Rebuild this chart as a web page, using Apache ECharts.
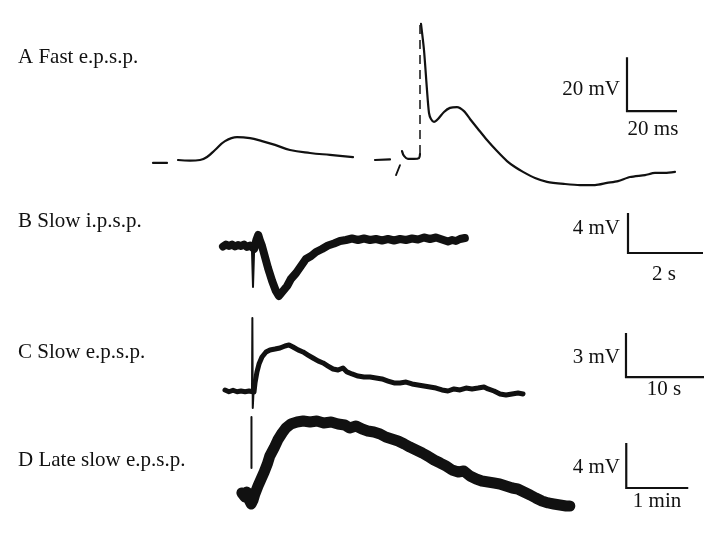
<!DOCTYPE html>
<html>
<head>
<meta charset="utf-8">
<script src="https://cdn.jsdelivr.net/npm/echarts@6/dist/echarts.min.js"></script>
<style>html,body{margin:0;padding:0;background:#fff}#c{width:722px;height:535px}</style>
</head>
<body>
<div id="c"></div>
<script>
// ---------- Panel titles and scale bar labels ----------
const panelTitles = ['A Fast e.p.s.p.', 'B Slow i.p.s.p.', 'C Slow e.p.s.p.', 'D Late slow e.p.s.p.'];
const yScaleLabels = ['20 mV', '4 mV', '3 mV', '4 mV'];
const xScaleLabels = ['20 ms', '2 s', '10 s', '1 min'];
// scale bar sizes in data units [x length, y length] and their anchor corners [x, y]
const scaleSizes = [[20, 20], [2, 4], [10, 3], [1, 4]];
const scaleAnchors = [[190, 18.1], [10.88, -0.7], [52.05, 0.95], [6.23, 0.8]];

// ---------- A: fast e.p.s.p. (time ms, potential mV) ----------
const A_dash1 = [[0.4, -1.1], [6, -1.1]];
const A_epsp = [[10.4, 0], [15.2, -0.2], [19.2, 0], [22, 1.1], [25.2, 3.7], [29.2, 7.0], [34, 8.5], [39.2, 8.1],
  [44, 7.0], [49.2, 5.6], [55.2, 3.7], [63.2, 2.6], [71.2, 1.9], [80.4, 1.1]];
const A_dash2 = [[89.2, 0], [95.2, 0.2]];
const A_slash = [[97.6, -5.6], [99.2, -1.9]];
const A_cup = [[100, 3.3], [100.8, 1.5], [102.4, 0.4], [104.8, 0.4], [106.8, 0.7], [107.2, 2.2]];
const A_upstroke = [[107.2, 2.2], [107.2, 50.4]];
const A_spike = [[107.6, 50.4], [108.8, 40.7], [110, 25.9], [110.8, 17.4], [111.6, 15.2], [112.8, 14.1],
  [114.4, 15.2], [116.8, 17.8], [119.2, 19.3], [122, 19.6], [124.8, 18.1], [127.2, 15.2], [130.4, 11.5],
  [134, 7.4], [138, 3.3], [142, -0.4], [145.2, -2.6], [148.4, -4.4], [153.2, -6.7], [158, -8.1],
  [165.2, -8.9], [171.2, -9.3], [177.2, -9.3], [182, -8.5], [186.4, -7.8], [191.2, -6.3], [197.2, -5.6],
  [201.2, -4.8], [205.2, -4.8], [209.2, -4.4]];

// ---------- B: slow i.p.s.p. (time s, potential mV) ----------
const B_trace = [[0.08, -0.05], [0.16, 0.15], [0.24, 0.0], [0.32, 0.15], [0.40, -0.05], [0.48, 0.1], [0.56, 0.0],
  [0.64, 0.15], [0.72, -0.1], [0.80, 0.05], [0.85, -0.1], [0.91, -0.3], [0.97, 0.6], [1.02, 1.1], [1.06, 0.6],
  [1.12, 0.0], [1.20, -1.1], [1.28, -2.2], [1.39, -3.5], [1.49, -4.5], [1.57, -5.0], [1.68, -4.5], [1.79, -4.0],
  [1.89, -3.3], [2.03, -2.7], [2.16, -2.0], [2.29, -1.3], [2.43, -1.0], [2.56, -0.6], [2.72, -0.3],
  [2.88, 0.05], [3.04, 0.25], [3.20, 0.5], [3.36, 0.6], [3.52, 0.75], [3.68, 0.6], [3.84, 0.75], [4.00, 0.6],
  [4.16, 0.7], [4.32, 0.55], [4.48, 0.7], [4.64, 0.55], [4.80, 0.7], [4.96, 0.6], [5.12, 0.75], [5.28, 0.65],
  [5.44, 0.85], [5.60, 0.7], [5.76, 0.85], [5.92, 0.65], [6.08, 0.45], [6.19, 0.6], [6.29, 0.5], [6.40, 0.7],
  [6.53, 0.8]];
const B_artifact = [[0.85, -0.1], [0.88, -4.1], [0.91, -0.4]];

// ---------- C: slow e.p.s.p. (time s, potential mV) ----------
const C_trace = [[0.64, 0.07], [1.15, -0.05], [1.67, 0.05], [2.18, -0.05], [2.69, 0.0], [3.21, -0.05],
  [3.72, 0], [3.97, -0.07], [4.36, -0.07], [4.49, 0.55], [4.74, 1.30], [5.00, 1.84], [5.38, 2.32],
  [5.90, 2.66], [6.41, 2.80], [7.05, 2.86], [7.69, 2.93], [8.33, 3.07], [8.85, 3.14], [9.36, 3.00],
  [10.0, 2.80], [10.64, 2.66], [11.28, 2.45], [11.92, 2.25], [12.56, 2.05], [13.21, 1.91], [13.85, 1.70],
  [14.49, 1.50], [15.13, 1.43], [15.77, 1.57], [16.28, 1.30], [16.92, 1.16], [17.69, 1.02], [18.46, 0.95],
  [19.23, 0.95], [20.0, 0.89], [20.77, 0.82], [21.54, 0.68], [22.31, 0.55], [23.08, 0.55], [23.85, 0.61],
  [24.62, 0.48], [25.38, 0.41], [26.15, 0.34], [26.92, 0.27], [27.69, 0.20], [28.46, 0.07], [29.23, 0],
  [30.0, 0.14], [30.77, 0.07], [31.54, 0.20], [32.31, 0.14], [33.08, 0.20], [33.85, 0.27], [34.36, 0.14],
  [35.13, 0], [35.90, -0.20], [36.67, -0.27], [37.44, -0.20], [38.21, -0.14], [38.85, -0.20]];
const C_artifact = [[4.10, -0.07], [4.15, 4.98], [4.20, -1.16], [4.30, -0.07]];

// ---------- D: late slow e.p.s.p. (time min, potential mV) ----------
const D_trace = [[0.03, 0.36], [0.08, 0], [0.11, 0.44], [0.15, -0.27], [0.18, -0.62], [0.21, -0.27],
  [0.24, 0.27], [0.29, 0.98], [0.34, 1.6], [0.39, 2.22], [0.44, 2.93], [0.48, 3.64], [0.55, 4.36],
  [0.61, 5.07], [0.68, 5.69], [0.74, 6.13], [0.82, 6.49], [0.92, 6.67], [1.02, 6.76], [1.13, 6.67],
  [1.24, 6.76], [1.35, 6.58], [1.47, 6.67], [1.58, 6.49], [1.69, 6.4], [1.77, 6.13], [1.87, 6.31],
  [1.97, 6.04], [2.06, 5.87], [2.16, 5.78], [2.26, 5.6], [2.35, 5.33], [2.45, 5.16], [2.55, 4.98],
  [2.65, 4.71], [2.74, 4.44], [2.84, 4.18], [2.94, 3.91], [3.03, 3.64], [3.13, 3.29], [3.23, 3.02],
  [3.32, 2.76], [3.42, 2.4], [3.52, 2.22], [3.61, 2.31], [3.71, 1.87], [3.81, 1.6], [3.9, 1.42],
  [4.0, 1.33], [4.1, 1.24], [4.19, 1.16], [4.29, 0.98], [4.39, 0.8], [4.48, 0.71], [4.58, 0.44],
  [4.68, 0.18], [4.77, -0.09], [4.87, -0.36], [4.97, -0.53], [5.06, -0.62], [5.16, -0.71], [5.26, -0.8],
  [5.32, -0.8]];
const D_artifact = [[0.185, 7.11], [0.185, 2.58]];

// ---------- layout (pixels) ----------
// origin pixel of data (0,0), pixels per x unit, pixels per y unit, x range, y range
const layout = [
  { ox: 152, oy: 160, sx: 2.5, sy: 2.7, xr: [0, 212], yr: [-12, 54] },
  { ox: 220, oy: 246, sx: 37.5, sy: 10, xr: [0, 13], yr: [-6, 4.2] },
  { ox: 220, oy: 391, sx: 7.8, sy: 14.67, xr: [0, 64], yr: [-1.5, 5.5] },
  { ox: 240, oy: 497, sx: 62, sy: 11.25, xr: [0, 7.4], yr: [-2, 7.6] }
];
const titlePos = [[18, 57], [18, 221], [18, 352], [18, 460]];
const yLabelPos = [[620, 89], [620, 228], [620, 357], [620, 467]];
const xLabelPos = [[653, 129], [664, 274], [664, 389], [657, 501]];

const INK = '#111';
const FONT = '"Liberation Serif", "Times New Roman", serif';

const grids = [], xAxes = [], yAxes = [];
layout.forEach(p => {
  grids.push({
    left: p.ox + p.xr[0] * p.sx,
    top: p.oy - p.yr[1] * p.sy,
    width: (p.xr[1] - p.xr[0]) * p.sx,
    height: (p.yr[1] - p.yr[0]) * p.sy,
    containLabel: false
  });
  xAxes.push({ type: 'value', gridIndex: grids.length - 1, min: p.xr[0], max: p.xr[1], show: false });
  yAxes.push({ type: 'value', gridIndex: grids.length - 1, min: p.yr[0], max: p.yr[1], show: false });
});

function line(data, gi, width, extra) {
  return Object.assign({
    type: 'line', data: data, xAxisIndex: gi, yAxisIndex: gi, showSymbol: false, symbol: 'none',
    silent: true, animation: false,
    lineStyle: { color: INK, width: width, cap: 'round', join: 'round' }
  }, extra || {});
}

const series = [
  line(A_dash1, 0, 2.2),
  line(A_epsp, 0, 2.2, { smooth: 0.4 }),
  line(A_dash2, 0, 2.2),
  line(A_slash, 0, 1.8),
  line(A_cup, 0, 2.2, { smooth: 0.3 }),
  line(A_upstroke, 0, 1.5, { lineStyle: { color: INK, width: 1.5, type: [9, 6] } }),
  line(A_spike, 0, 2.2, { smooth: 0.25 }),
  line(B_trace, 1, 8),
  line(B_artifact, 1, 2),
  line(C_artifact, 2, 2),
  line(C_trace, 2, 5),
  line(D_artifact, 3, 2),
  line(D_trace, 3, 11)
];

// scale bars built from their sizes
scaleSizes.forEach((s, i) => {
  const a = scaleAnchors[i];
  series.push(line([[a[0], a[1] + s[1]], [a[0], a[1]], [a[0] + s[0], a[1]]], i, 2.2,
    { lineStyle: { color: INK, width: 2.2, cap: 'butt', join: 'miter' } }));
});

const graphic = [];
function txt(str, pos, align) {
  graphic.push({
    type: 'text', x: pos[0], y: pos[1], silent: true,
    style: { text: str, font: '21px ' + FONT, fill: INK, align: align, textAlign: align,
      verticalAlign: 'middle', textVerticalAlign: 'middle' }
  });
}
panelTitles.forEach((t, i) => txt(t, titlePos[i], 'left'));
yScaleLabels.forEach((t, i) => txt(t, yLabelPos[i], 'right'));
xScaleLabels.forEach((t, i) => txt(t, xLabelPos[i], 'center'));

const chart = echarts.init(document.getElementById('c'), null, { renderer: 'canvas' });
chart.setOption({
  backgroundColor: '#fff',
  animation: false,
  grid: grids, xAxis: xAxes, yAxis: yAxes,
  series: series,
  graphic: graphic
});
</script>
</body>
</html>
